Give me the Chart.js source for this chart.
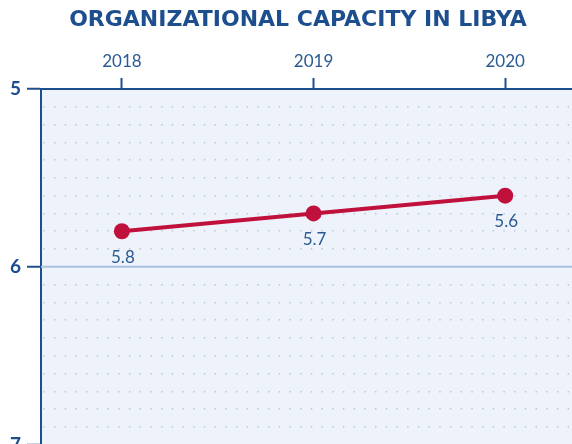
<!DOCTYPE html>
<html>
<head>
<meta charset="utf-8">
<script src="https://cdn.jsdelivr.net/npm/chart.js@4.4.0/dist/chart.umd.min.js"></script>
<style>
  html, body { margin: 0; padding: 0; background: #ffffff; }
  #wrap { width: 572px; height: 444px; overflow: hidden; position: relative; }
  #myChart { position: absolute; left: 0; top: 0; }
</style>
</head>
<body>
<div id="wrap">
  <canvas id="myChart" width="596" height="462"></canvas>
</div>
<script>
// Data
const years = [2018, 2019, 2020];
const capacityScores = [5.8, 5.7, 5.6];
const yTickLabels = [5, 6, 7];

const darkBlue = '#1d4f8f';
const lineRed = '#c0113c';

function isWhole(v) {
    return Math.abs(v - Math.round(v)) < 1e-6;
}

// Plot background + solid line at the middle whole tick
const backdropPlugin = {
    id: 'backdrop',
    beforeDraw(chart) {
        const { ctx, chartArea } = chart;
        ctx.save();
        ctx.fillStyle = '#eef2fa';
        ctx.fillRect(chartArea.left, chartArea.top, chartArea.right - chartArea.left, chartArea.bottom - chartArea.top);
        ctx.restore();
    },
    beforeDatasetsDraw(chart) {
        const { ctx, chartArea, scales } = chart;
        ctx.save();
        ctx.strokeStyle = '#a8c2de';
        ctx.lineWidth = 2;
        yTickLabels.slice(1, -1).forEach(v => {
            const y = scales.y.getPixelForValue(v);
            ctx.beginPath();
            ctx.moveTo(chartArea.left, y);
            ctx.lineTo(chartArea.right, y);
            ctx.stroke();
        });
        ctx.restore();
    }
};

// Value labels under each point
const valueLabels = {
    id: 'valueLabels',
    afterDatasetsDraw(chart) {
        const { ctx } = chart;
        const meta = chart.getDatasetMeta(0);
        ctx.save();
        ctx.fillStyle = '#2a5a92';
        ctx.font = '17px Lato';
        ctx.textAlign = 'center';
        ctx.textBaseline = 'middle';
        meta.data.forEach((pt, i) => {
            ctx.fillText(capacityScores[i].toFixed(1), pt.x + 1, pt.y + 26);
        });
        ctx.restore();
    }
};

const ctx = document.getElementById('myChart').getContext('2d');
const myChart = new Chart(ctx, {
    type: 'line',
    data: {
        datasets: [{
            data: years.map((yr, i) => ({ x: yr, y: capacityScores[i] })),
            borderColor: lineRed,
            backgroundColor: lineRed,
            borderWidth: 4,
            pointRadius: 8,
            pointHoverRadius: 8,
            pointBackgroundColor: lineRed,
            pointBorderWidth: 0,
            tension: 0
        }]
    },
    options: {
        responsive: false,
        animation: false,
        devicePixelRatio: 1,
        layout: { padding: { left: 0, right: 0, top: 0, bottom: 4 } },
        plugins: {
            legend: { display: false },
            tooltip: { enabled: false },
            title: {
                display: true,
                text: 'ORGANIZATIONAL CAPACITY IN LIBYA',
                color: darkBlue,
                font: { family: 'DejaVu Sans', size: 22, weight: 'bold' },
                padding: { top: 7, bottom: 0 }
            }
        },
        scales: {
            x: {
                type: 'linear',
                position: 'top',
                min: 2017.578,
                max: 2020.432,
                afterBuildTicks: scale => {
                    scale.ticks = years.map(v => ({ value: v }));
                },
                afterFit: scale => { scale.height = 55.6; },
                ticks: {
                    color: '#2a5a92',
                    font: { family: 'Lato', size: 17 },
                    padding: 6,
                    callback: v => String(v)
                },
                grid: {
                    drawOnChartArea: false,
                    drawTicks: true,
                    tickLength: 11,
                    tickWidth: 2,
                    tickColor: darkBlue
                },
                border: { display: true, color: darkBlue, width: 2 }
            },
            y: {
                reverse: true,
                min: 5,
                max: 7,
                afterFit: scale => { scale.width = 41; },
                ticks: {
                    stepSize: 0.1,
                    autoSkip: false,
                    color: darkBlue,
                    font: { family: 'Lato', size: 19, weight: 'bold' },
                    padding: 6,
                    callback: v => isWhole(v) ? String(Math.round(v)) : ''
                },
                grid: {
                    color: ctx => isWhole(ctx.tick.value) ? 'rgba(0,0,0,0)' : '#bcc8d9',
                    lineWidth: 1.5,
                    drawTicks: true,
                    tickLength: 14,
                    tickWidth: 2,
                    tickColor: ctx => isWhole(ctx.tick.value) ? darkBlue : 'rgba(0,0,0,0)'
                },
                border: { display: true, color: darkBlue, width: 2, dash: [1.5, 9.2], dashOffset: -1.3 }
            }
        }
    },
    plugins: [backdropPlugin, valueLabels]
});
</script>
</body>
</html>
